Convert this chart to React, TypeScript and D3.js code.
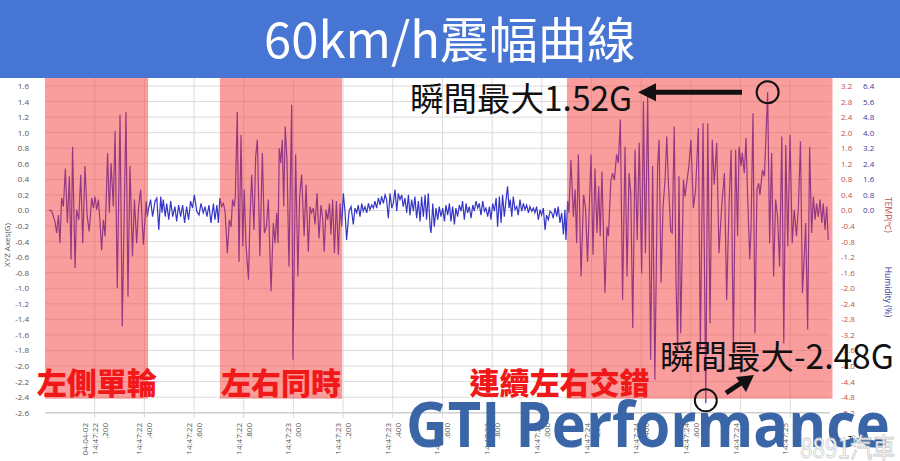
import React from 'react';
import * as d3 from 'd3';

const W = 900;
const H = 461;

const TITLE = '60km/h震幅曲線';

// [ms after 14:47:22.000, acceleration G]
const LEFT_WHEEL: [number, number][] = [
  [17,0.01],[27,-0.01],[40,-0.14],[47,-0.29],[54,-0.06],[60,-0.42],[67,0.16],[74,0.05],[82,0.54],[90,-0.16],[98,0.44],[105,-0.63],[111,0.82],[121,-0.74],[127,0.01],[136,-0.12],[144,0.46],[152,-0.42],[161,0.57],[170,-0.08],[178,-0.27],[188,0.16],[195,0.03],[201,0.18],[208,0.01],[215,0.14],[221,-0.12],[228,-0.51],[235,-0.12],[242,-0.33],[252,0.74],[259,-0.03],[266,0.61],[275,0.05],[282,1.02],[291,-1.00],[302,1.23],[311,-1.49],[326,1.27],[334,-1.11],[342,0.57],[352,-0.59],[360,0.14],[369,-0.42],[377,0.05],[385,0.27],[396,-0.44],[407,0.12],[412,-0.08],
];
const QUIET_A: [number, number][] = [
  [416,0.01],[425,0.14],[433,-0.08],[443,0.12],[450,0.16],[458,-0.25],[466,0.18],[471,-0.03],[476,0.14],[484,-0.08],[490,0.09],[498,-0.12],[506,0.12],[514,-0.08],[523,0.05],[530,-0.14],[538,0.07],[546,-0.08],[554,0.07],[562,-0.16],[570,0.05],[578,-0.12],[586,0.12],[594,0.03],[601,0.20],[611,-0.01],[620,-0.06],[628,0.09],[637,-0.03],[644,0.05],[652,-0.08],[660,0.07],[668,-0.16],[678,0.09],[684,-0.12],[692,0.07],[698,-0.16],
];
const BOTH_WHEELS: [number, number][] = [
  [704,0.16],[711,0.05],[718,0.09],[725,-0.01],[734,-0.55],[742,-0.12],[749,-0.21],[755,0.14],[762,0.05],[766,0.18],[774,1.27],[781,-0.66],[789,0.97],[796,-0.46],[802,0.27],[809,-0.44],[819,-0.89],[825,-0.12],[832,0.46],[841,-0.25],[848,0.69],[855,0.91],[865,-0.59],[875,0.74],[883,-0.29],[891,-0.21],[899,0.14],[910,-1.04],[919,-0.16],[926,-0.42],[933,-0.03],[938,-0.42],[943,0.80],[949,0.61],[955,0.91],[961,0.05],[967,1.08],[974,0.65],[982,-0.72],[993,1.36],[998,-1.92],[1009,0.72],[1018,-0.85],[1025,0.18],[1033,0.46],[1043,-0.33],[1051,0.33],[1060,-0.53],[1067,0.05],[1073,-0.03],[1080,0.03],[1087,-0.18],[1095,0.22],[1103,-0.36],[1111,0.07],[1118,-0.12],[1124,-0.53],[1131,0.01],[1138,-0.12],[1145,0.09],[1151,-0.31],[1158,0.14],[1165,-0.55],[1173,0.12],[1181,-0.57],[1188,0.09],[1194,-0.21],
];
const QUIET_B: [number, number][] = [
  [1201,0.22],[1208,-0.03],[1214,-0.38],[1224,-0.01],[1232,0.05],[1241,-0.18],[1248,0.03],[1255,-0.03],[1261,0.07],[1268,-0.08],[1275,0.09],[1281,-0.01],[1288,0.05],[1295,-0.03],[1302,0.09],[1308,0.01],[1315,0.07],[1322,0.03],[1328,0.12],[1335,0.03],[1342,0.16],[1349,0.07],[1355,0.18],[1362,0.09],[1369,0.20],[1375,0.14],[1382,-0.10],[1389,0.22],[1396,0.03],[1402,0.09],[1409,0.27],[1416,-0.01],[1422,0.22],[1429,0.14],[1436,0.20],[1442,0.05],[1449,0.16],[1456,-0.03],[1463,0.20],[1469,-0.06],[1476,0.14],[1483,-0.01],[1489,0.18],[1496,-0.10],[1503,0.12],[1510,-0.14],[1516,0.18],[1523,-0.08],[1530,0.20],[1536,-0.12],[1543,0.22],[1550,-0.21],[1554,-0.29],[1561,0.09],[1567,-0.21],[1574,0.03],[1581,-0.12],[1587,0.05],[1594,-0.08],[1601,0.03],[1608,-0.14],[1614,0.07],[1621,-0.06],[1628,0.09],[1634,-0.14],[1641,0.05],[1648,-0.18],[1654,0.03],[1661,-0.08],[1668,0.07],[1675,-0.01],[1681,0.12],[1688,-0.12],[1695,0.09],[1701,-0.03],[1708,0.05],[1715,-0.10],[1722,0.07],[1728,-0.01],[1735,0.12],[1742,0.03],[1748,0.09],[1755,-0.06],[1762,0.12],[1769,-0.01],[1775,0.03],[1782,-0.08],[1789,0.05],[1795,-0.12],[1802,0.09],[1809,-0.01],[1816,0.16],[1822,-0.21],[1829,0.18],[1836,-0.16],[1842,0.20],[1849,-0.08],[1856,0.14],[1862,0.31],[1868,0.03],[1873,0.14],[1879,-0.08],[1885,0.18],[1892,0.01],[1899,0.05],[1905,-0.06],[1912,0.14],[1919,-0.01],[1926,0.09],[1932,0.01],[1939,0.07],[1946,-0.03],[1952,0.05],[1959,-0.01],[1966,0.03],[1972,-0.03],[1979,0.05],[1986,-0.12],[1993,0.01],[1999,-0.06],[2006,0.03],[2013,-0.25],[2019,-0.06],[2026,-0.12],[2033,-0.01],[2040,-0.03],[2046,-0.10],[2053,0.03],[2060,-0.08],[2066,0.05],[2073,-0.16],[2080,-0.03],[2087,-0.31],[2093,0.01],[2097,-0.38],
];
const ALTERNATING: [number, number][] = [
  [2104,0.12],[2109,-0.03],[2117,0.65],[2127,-0.08],[2134,0.27],[2140,-0.42],[2147,0.72],[2158,-0.85],[2168,0.20],[2176,0.03],[2184,-0.66],[2198,0.72],[2206,-0.57],[2214,0.54],[2222,-0.29],[2229,0.31],[2235,-0.33],[2242,0.50],[2254,-1.06],[2262,-0.21],[2268,-0.33],[2278,0.39],[2285,0.48],[2292,0.39],[2301,0.72],[2308,0.61],[2316,1.17],[2325,-1.15],[2335,0.82],[2343,-0.85],[2351,0.48],[2358,0.22],[2366,-1.51],[2375,0.78],[2384,-0.38],[2392,0.87],[2402,-0.81],[2409,1.40],[2417,-0.55],[2426,1.48],[2438,-1.92],[2446,0.57],[2455,-2.18],[2466,0.57],[2472,0.91],[2480,-0.93],[2488,0.05],[2496,0.39],[2503,0.95],[2509,0.39],[2519,-0.27],[2525,-0.29],[2533,1.08],[2540,-0.89],[2547,-1.83],[2552,0.44],[2559,-1.58],[2570,0.39],[2576,0.18],[2583,0.35],[2592,0.57],[2600,0.91],[2610,0.03],[2619,0.27],[2630,1.06],[2638,-1.79],[2649,1.12],[2660,-2.48],[2668,1.12],[2677,-1.45],[2686,0.91],[2694,0.33],[2704,0.87],[2713,-0.55],[2724,0.05],[2735,0.48],[2744,-1.15],[2753,0.01],[2762,0.78],[2771,-1.83],[2780,0.78],[2788,-0.33],[2794,0.82],[2802,0.57],[2807,0.74],[2815,0.48],[2822,0.93],[2828,0.22],[2837,-0.63],[2842,-0.25],[2850,1.25],[2858,-1.58],[2866,0.27],[2873,0.35],[2878,0.20],[2888,0.52],[2896,0.44],[2909,1.52],[2917,-0.42],[2925,0.74],[2933,-0.85],[2941,0.14],[2949,-0.08],[2957,-0.72],[2966,0.95],[2974,-1.71],[2982,0.84],[2990,-0.46],[2999,0.97],[3008,-0.42],[3016,0.01],[3025,-0.33],[3033,0.05],[3041,0.89],[3049,-1.06],[3057,-0.55],[3062,-0.16],[3070,-1.53],[3078,0.82],[3086,-0.29],[3093,0.18],[3100,-0.12],[3106,0.09],[3113,-0.08],[3120,0.14],[3127,-0.16],[3133,0.09],[3140,-0.25],[3147,0.05],[3153,-0.38],
];

const BANDS_MS: [number, number][] = [[0, 415], [704, 1196], [2101, 3170]];
const BAND_LABELS = ['左側單輪', '左右同時', '連續左右交錯'];
const BAND_LABEL_MS = [208, 950, 2071];

const G_TICKS = [1.6,1.4,1.2,1.0,0.8,0.6,0.4,0.2,0.0,-0.2,-0.4,-0.6,-0.8,-1.0,-1.2,-1.4,-1.6,-1.8,-2.0,-2.2,-2.4,-2.6];
const TEMP_TICKS = [3.2,2.8,2.4,2.0,1.6,1.2,0.8,0.4,0.0,-0.4,-0.8,-1.2,-1.6,-2.0,-2.4,-2.8,-3.2,-3.6,-4.0,-4.4,-4.8,-5.2];
const HUM_TICKS = [6.4,5.6,4.8,4.0,3.2,2.4,1.6,0.8,0.0];
const TIME_TICKS_MS = [200,400,600,800,1000,1200,1400,1600,1800,2000,2200,2400,2600,2800,3000];

const MAX_POINT: [number, number] = [2909, 1.52];
const MIN_POINT: [number, number] = [2660, -2.48];
const MAX_TEXT = '瞬間最大1.52G';
const MIN_TEXT = '瞬間最大-2.48G';

const CJK = '"Noto Sans CJK TC", "Noto Sans", sans-serif';
const AX = '"Open Sans", "Noto Sans", sans-serif';

export default function App() {
  const data = [...LEFT_WHEEL, ...QUIET_A, ...BOTH_WHEELS, ...QUIET_B, ...ALTERNATING];
  const x = d3.scaleLinear().domain([0, 3160]).range([45, 830]);
  const y = d3.scaleLinear().domain([-2.6, 1.6]).range([412.7, 86]);
  const yTemp = d3.scaleLinear().domain([-5.2, 3.2]).range([412.7, 86]);
  const yHum = d3.scaleLinear().domain([-10.4, 6.4]).range([412.7, 86]);
  const line = d3.line<[number, number]>().x(d => x(d[0])).y(d => y(d[1]));
  const titleH = 78;
  const bandBottom = y(-2.42);

  const fmt = (v: number) => v.toFixed(1);

  const mx = x(MAX_POINT[0]), my = y(MAX_POINT[1]);
  const nx = x(MIN_POINT[0]), ny = y(MIN_POINT[1]);

  return (
    <svg width={W} height={H} style={{ position: 'absolute', left: 0, top: 0, background: '#fff' }}>
      <rect x={0} y={0} width={W} height={H} fill="#fff" />
      {/* grid */}
      {G_TICKS.map(v => (
        <line key={'gh' + v} x1={45} x2={830} y1={y(v)} y2={y(v)} stroke="#dcdcdc" strokeWidth={1} />
      ))}
      {TIME_TICKS_MS.map(t => (
        <line key={'gv' + t} x1={x(t)} x2={x(t)} y1={titleH} y2={418} stroke="#dcdcdc" strokeWidth={1} />
      ))}
      <line x1={45} x2={830} y1={y(-2.6)} y2={y(-2.6)} stroke="#cfcfcf" strokeWidth={1.5} />

      {/* data line */}
      <path d={line(data) || ''} fill="none" stroke="#3535c8" strokeWidth={1.2} />

      {/* highlight bands */}
      {BANDS_MS.map(([a, b], i) => (
        <rect key={'b' + i} x={x(a)} y={titleH} width={x(b) - x(a)} height={bandBottom - titleH}
          fill="#f53c3c" fillOpacity={0.5} />
      ))}

      {/* left axis */}
      {G_TICKS.map(v => (
        <text key={'yl' + v} x={29} y={y(v) + 3} textAnchor="end" fontSize={8} fontFamily={AX} fill="#555">{fmt(v)}</text>
      ))}
      <text transform={`translate(10,245) rotate(-90)`} textAnchor="middle" fontSize={8} fontFamily={AX} fill="#555">XYZ Axes(G)</text>

      {/* right axes */}
      {TEMP_TICKS.map(v => (
        <text key={'tl' + v} x={841} y={yTemp(v) + 3} fontSize={8} fontFamily={AX} fill="#c0504d">{fmt(v)}</text>
      ))}
      {HUM_TICKS.map(v => (
        <text key={'hl' + v} x={863} y={yHum(v) + 3} fontSize={8} fontFamily={AX} fill="#3a3a9a">{fmt(v)}</text>
      ))}
      <text transform={`translate(885,215) rotate(90)`} textAnchor="middle" fontSize={8.5} fontFamily={AX} fill="#c0504d">TEMP(℃)</text>
      <text transform={`translate(885,292) rotate(90)`} textAnchor="middle" fontSize={8.5} fontFamily={AX} fill="#3a3a9a">Humidity (%)</text>

      {/* x axis labels */}
      {TIME_TICKS_MS.map((t, i) => {
        const sec = 22 + Math.floor(t / 1000);
        const lines = [`14:47:${sec}`, '.' + String(t % 1000).padStart(3, '0')];
        if (i === 0) lines.unshift('04-04-02');
        const n = lines.length;
        return lines.map((s, j) => (
          <text key={'xl' + t + j} transform={`translate(${x(t) + 3 + (j - (n - 1) / 2) * 10},423) rotate(-90)`}
            textAnchor="end" fontSize={8} fontFamily={AX} fill="#555">{s}</text>
        ));
      })}
      <text x={848} y={443} fontSize={8.5} fontFamily={AX} fill="#222">Time</text>
      <line x1={868} x2={888} y1={442} y2={442} stroke="#3535c8" strokeWidth={1.5} />
      <rect x={875} y={439} width={6} height={6} fill="#3535c8" />

      {/* title bar */}
      <rect x={0} y={0} width={W} height={titleH} fill="#4775d4" />
      <text x={450} y={58} textAnchor="middle" fontSize={49} fontFamily={CJK} fill="#fff">{TITLE}</text>

      {/* band labels */}
      {BAND_LABELS.map((s, i) => (
        <text key={'bl' + i} x={x(BAND_LABEL_MS[i])} y={394} textAnchor="middle" fontSize={30} fontWeight={900}
          fontFamily={CJK} fill="#f01818">{s}</text>
      ))}

      {/* annotations */}
      <text x={410} y={111} fontSize={33.5} fontFamily={CJK} fill="#111">{MAX_TEXT}</text>
      <text x={660} y={369} fontSize={33.5} fontFamily={CJK} fill="#111">{MIN_TEXT}</text>
      <circle cx={mx} cy={my} r={11} fill="none" stroke="#111" strokeWidth={2} />
      <circle cx={nx} cy={ny - 3} r={11} fill="none" stroke="#111" strokeWidth={2} />
      <line x1={742} x2={652} y1={my} y2={my} stroke="#111" strokeWidth={5} />
      <polygon points={`${638},${my} ${656},${my - 9} ${656},${my + 9}`} fill="#111" />
      <line x1={726} x2={744} y1={393} y2={381} stroke="#111" strokeWidth={5} />
      <polygon points="754,375 736,377 746,392" fill="#111" />

      {/* watermarks */}
      <text x={406} y={447} fontSize={62} fontWeight={700} fontFamily={AX} fill="#3a66a8"
        textLength={484} lengthAdjust="spacingAndGlyphs">GTI Performance</text>
      <text x={800} y={458} fontSize={27} fontFamily={CJK} fill="#fff" stroke="#c8c8c8" strokeWidth={0.8}
        opacity={0.95} textLength={95} lengthAdjust="spacingAndGlyphs">8891汽車</text>
    </svg>
  );
}
